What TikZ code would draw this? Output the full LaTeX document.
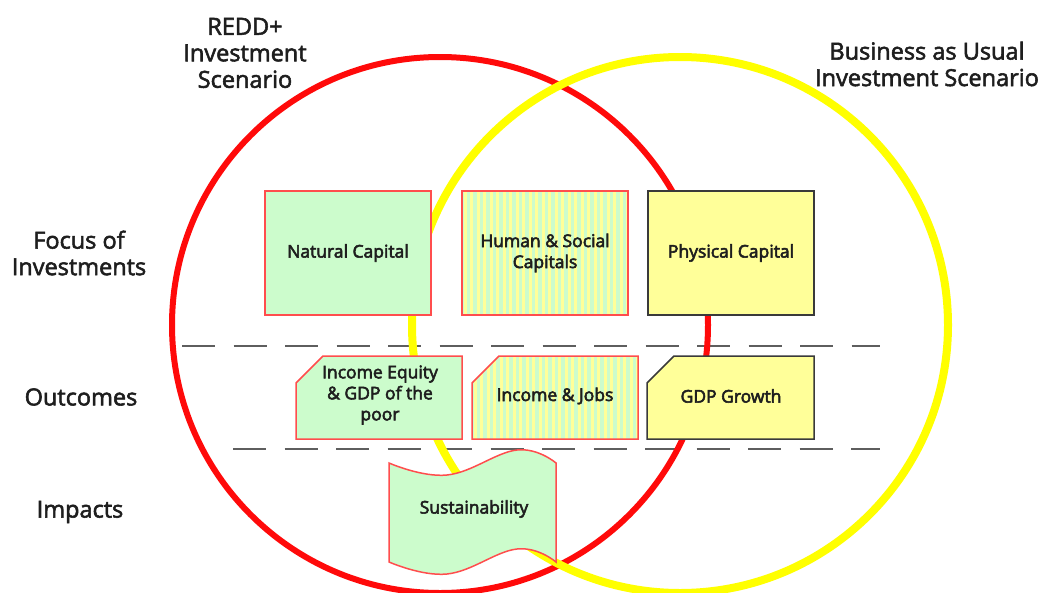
\documentclass[tikz,border=0pt]{standalone}
\usepackage{fontspec}
\setmainfont{Open Sans}
\newcommand\heavier{\special{pdf:literal direct 2 Tr 0.55 w}}
\definecolor{ringred}{HTML}{FF0A0A}
\definecolor{ringyellow}{HTML}{FFFF00}
\definecolor{boxred}{HTML}{FF4D4D}
\definecolor{boxgray}{HTML}{3A3A3A}
\definecolor{capgreen}{HTML}{CCFCCC}
\definecolor{capyellow}{HTML}{FFFF99}
\definecolor{txt}{HTML}{1E1E1E}
\definecolor{dashgray}{HTML}{5E5E5E}
\tikzset{
  ring/.style={line width=6pt},
  sepline/.style={draw=dashgray, line width=2.6pt, dash pattern=on 33pt off 18.5pt},
  greenbox/.style={draw=boxred, line width=1.5pt, fill=capgreen},
  yellowbox/.style={draw=boxgray, line width=1.5pt, fill=capyellow},
  stripebox/.style={draw=boxred, line width=1.5pt},
  boxtext/.style={text=txt, font=\fontsize{17.5}{21}\selectfont\heavier, align=center, inner sep=0pt},
  sidetext/.style={text=txt, font=\fontsize{23.5}{26.5}\selectfont\heavier, align=center, inner sep=0pt},
}
\begin{document}
\begin{tikzpicture}[x=1pt,y=-1pt]
\useasboundingbox (0,0) rectangle (1042,592);
\fill[white] (0,0) rectangle (1042,592);

% separators
\coordinate (s1a) at (182,346); \coordinate (s1b) at (880,346);
\coordinate (s2a) at (233,449); \coordinate (s2b) at (880,449);
\draw[sepline] (s1a) -- (s1b);
\draw[sepline] (s2a) -- (s2b);

% scenario circles
\coordinate (redc) at (440,325);
\coordinate (yelc) at (680,325);
\draw[ring, draw=ringred] (redc) circle[radius=268];
\draw[ring, draw=ringyellow, line width=8pt] (yelc) circle[radius=268];

% Focus of investments row
\node[greenbox, minimum width=166, minimum height=124] (nat) at (348,253) {};
\node[boxtext] (natt) at (nat.center) {Natural Capital};

\fill[capgreen] (462,191) rectangle (628,315);
\begin{scope}
  \clip (462,191) rectangle (628,315);
  \foreach \i in {0,...,26} \fill[capyellow] (463.5+6.5*\i,191) rectangle ++(3.3,124);
\end{scope}
\node[stripebox, minimum width=166, minimum height=124] (hum) at (545,253) {};
\node[boxtext] (humt) at (545,253) {Human \& Social\\Capitals};

\node[yellowbox, minimum width=166, minimum height=124] (phy) at (731,253) {};
\node[boxtext] (phyt) at (phy.center) {Physical Capital};

% Outcomes row
\draw[greenbox] (323,356) -- (462,356) -- (462,439) -- (296,439) -- (296,383) -- cycle;
\node[boxtext] (inc) at (380,395) {Income Equity\\\& GDP of the\\poor};

\begin{scope}
  \clip (499,356) -- (638,356) -- (638,439) -- (472,439) -- (472,383) -- cycle;
  \fill[capgreen] (472,356) rectangle (638,439);
  \foreach \i in {0,...,26} \fill[capyellow] (473.5+6.5*\i,356) rectangle ++(3.3,83);
\end{scope}
\draw[stripebox] (499,356) -- (638,356) -- (638,439) -- (472,439) -- (472,383) -- cycle;
\node[boxtext] (job) at (555,396) {Income \& Jobs};

\draw[yellowbox] (674,356) -- (814,356) -- (814,439) -- (647,439) -- (647,383) -- cycle;
\node[boxtext] (gdp) at (731,396) {GDP Growth};

% Impacts row
\draw[greenbox] plot[smooth, tension=0.7] coordinates {(389,463) (447,475) (517,450) (556,463)}
  -- plot[smooth, tension=0.7] coordinates {(556,562) (517,549) (447,574) (389,562)} -- cycle;
\node[boxtext] (sus) at (474,509) {Sustainability};

% side labels
\node[sidetext] (foc) at (79,253) {Focus of\\Investments};
\node[sidetext] (out) at (81,397) {Outcomes};
\node[sidetext] (imp) at (80,512) {Impacts};

% titles
\node[sidetext] (redd) at (245,53) {REDD+\\Investment\\Scenario};
\node[sidetext] (bau) at (927,64) {Business as Usual\\Investment Scenario};
\end{tikzpicture}
\end{document}
